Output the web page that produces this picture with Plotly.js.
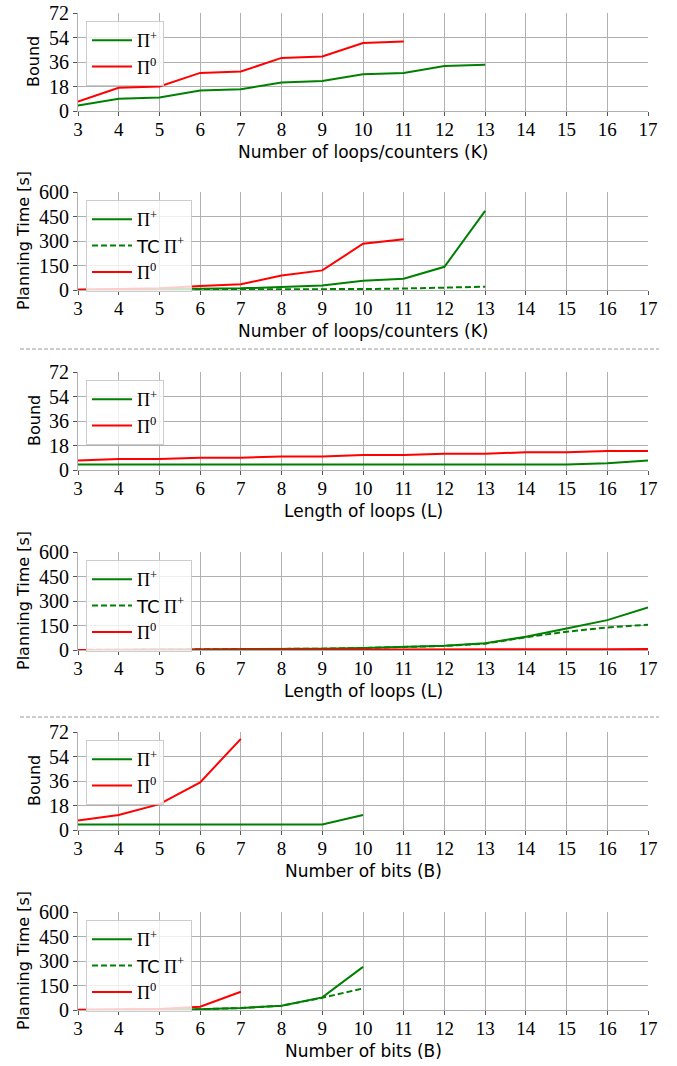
<!DOCTYPE html>
<html>
<head>
<meta charset="utf-8">
<script src="https://cdn.plot.ly/plotly-3.0.1.min.js"></script>
<style>
html,body{margin:0;padding:0;background:#fff;}
#chart{width:677px;height:1066px;}
</style>
</head>
<body>
<div id="chart"></div>
<script>
// ---- Data ----
const K = [3, 4, 5, 6, 7, 8, 9, 10, 11, 12, 13];
const K0 = [3, 4, 5, 6, 7, 8, 9, 10, 11];
const boundK_plus = [4, 9, 10, 15, 16, 21, 22, 27, 28, 33, 34];
const boundK_zero = [7, 17, 18, 28, 29, 39, 40, 50, 51];
const timeK_plus = [1, 2, 4, 8, 10, 20, 28, 57, 69, 142, 484];
const timeK_tc = [0.5, 1, 1, 1.5, 2, 3, 4, 6, 9, 14, 20];
const timeK_zero = [2, 5, 10, 24, 35, 89, 120, 283, 311];

const L = [3, 4, 5, 6, 7, 8, 9, 10, 11, 12, 13, 14, 15, 16, 17];
const boundL_plus = [4, 4, 4, 4, 4, 4, 4, 4, 4, 4, 4, 4, 4, 5, 7];
const boundL_zero = [7, 8, 8, 9, 9, 10, 10, 11, 11, 12, 12, 13, 13, 14, 14];
const timeL_plus = [0.5, 1, 1.5, 2, 3, 5, 8, 13, 20, 26, 41, 81, 132, 183, 260];
const timeL_tc = [0.5, 1, 1.5, 2, 3, 5, 8, 12, 18, 25, 39, 78, 112, 138, 155];
const timeL_zero = [0.5, 0.5, 0.5, 1, 1, 1, 1.5, 2, 2, 2.5, 3, 3, 4, 5, 6];

const B = [3, 4, 5, 6, 7, 8, 9, 10];
const B0 = [3, 4, 5, 6, 7];
const boundB_plus = [4, 4, 4, 4, 4, 4, 4, 11];
const boundB_zero = [7, 11, 19, 35, 67];
const timeB_plus = [0.5, 1, 2, 5, 12, 26, 77, 264];
const timeB_tc = [0.5, 1, 2, 5, 12, 26, 75, 132];
const timeB_zero = [1, 2, 6, 20, 112];

const xTicks = [3, 4, 5, 6, 7, 8, 9, 10, 11, 12, 13, 14, 15, 16, 17];
const boundTicks = [0, 18, 36, 54, 72];
const timeTicks = [0, 150, 300, 450, 600];

const nameP = 'Π<sup>+</sup>';
const nameTC = '<span style="font-family:\'DejaVu Sans\'">TC</span> Π<sup>+</sup>';
const name0 = 'Π<sup>0</sup>';

// ---- Panels ----
const panels = [
  {xt: 'Number of loops/counters (K)', yt: 'Bound', range: 72, ticks: boundTicks,
   series: [[K, boundK_plus, nameP, 'green', 'solid'], [K0, boundK_zero, name0, 'red', 'solid']]},
  {xt: 'Number of loops/counters (K)', yt: 'Planning Time [s]', range: 600, ticks: timeTicks,
   series: [[K, timeK_plus, nameP, 'green', 'solid'], [K, timeK_tc, nameTC, 'green', 'dash'], [K0, timeK_zero, name0, 'red', 'solid']]},
  {xt: 'Length of loops (L)', yt: 'Bound', range: 72, ticks: boundTicks,
   series: [[L, boundL_plus, nameP, 'green', 'solid'], [L, boundL_zero, name0, 'red', 'solid']]},
  {xt: 'Length of loops (L)', yt: 'Planning Time [s]', range: 600, ticks: timeTicks,
   series: [[L, timeL_plus, nameP, 'green', 'solid'], [L, timeL_tc, nameTC, 'green', 'dash'], [L, timeL_zero, name0, 'red', 'solid']]},
  {xt: 'Number of bits (B)', yt: 'Bound', range: 72, ticks: boundTicks,
   series: [[B, boundB_plus, nameP, 'green', 'solid'], [B0, boundB_zero, name0, 'red', 'solid']]},
  {xt: 'Number of bits (B)', yt: 'Planning Time [s]', range: 600, ticks: timeTicks,
   series: [[B, timeB_plus, nameP, 'green', 'solid'], [B, timeB_tc, nameTC, 'green', 'dash'], [B0, timeB_zero, name0, 'red', 'solid']]}
];

const W = 677, H = 1066, ML = 78, MR = 29;
const tops = [13, 192, 372, 552, 732, 912];
const PH = 98;
const pw = W - ML - MR;

const serifFont = 'Liberation Serif';
const sansFont = 'DejaVu Sans';
const gridC = '#b0b0b0';

const data = [];
const layout = {
  width: W, height: H,
  margin: {l: ML, r: MR, t: 0, b: 0},
  paper_bgcolor: '#fff', plot_bgcolor: '#fff',
  showlegend: true,
  font: {family: serifFont, color: '#000'},
  annotations: [], shapes: []
};

panels.forEach((p, i) => {
  const n = i + 1;
  const xa = n === 1 ? 'x' : 'x' + n;
  const ya = n === 1 ? 'y' : 'y' + n;
  const lg = n === 1 ? 'legend' : 'legend' + n;
  const top = tops[i];
  const d0 = 1 - (top + PH) / H, d1 = 1 - top / H;
  layout[n === 1 ? 'xaxis' : 'xaxis' + n] = {
    anchor: ya, range: [3, 17], tickmode: 'array', tickvals: xTicks,
    showgrid: true, gridcolor: gridC, gridwidth: 1, zeroline: false,
    showline: true, linecolor: gridC, linewidth: 1,
    ticks: 'outside', ticklen: 4, tickcolor: '#555', tickwidth: 1,
    ticklabelstandoff: -3,
    tickfont: {family: serifFont, size: 19, color: '#000'}
  };
  layout[n === 1 ? 'yaxis' : 'yaxis' + n] = {
    anchor: xa, domain: [d0, d1], range: [0, p.range], tickmode: 'array', tickvals: p.ticks,
    showgrid: true, gridcolor: gridC, gridwidth: 1, zeroline: false,
    showline: true, linecolor: gridC, linewidth: 1,
    ticks: 'outside', ticklen: 4, tickcolor: '#555', tickwidth: 1,
    tickfont: {family: serifFont, size: 20, color: '#000'}
  };
  layout[lg] = {
    x: 8 / pw, y: 1 - (top + 8) / H, xanchor: 'left', yanchor: 'top',
    bgcolor: 'rgba(255,255,255,0.8)', bordercolor: '#cccccc', borderwidth: 1,
    font: {family: serifFont, size: 18, color: '#000'}, itemwidth: 40,
    tracegroupgap: 0
  };
  p.series.forEach(s => {
    data.push({
      type: 'scatter', mode: 'lines', x: s[0], y: s[1], name: s[2],
      xaxis: xa, yaxis: ya, legend: lg,
      line: {color: s[3], width: 2, dash: s[4] === 'dash' ? '6px,3px' : 'solid'},
      hoverinfo: 'skip'
    });
  });
  const titleX = p.range === 72 ? 34 : 23;
  layout.annotations.push({
    xref: 'paper', yref: 'paper', x: (titleX - ML) / pw, y: (d0 + d1) / 2,
    text: p.yt, textangle: -90, showarrow: false, xanchor: 'center', yanchor: 'middle',
    font: {family: sansFont, size: 16, color: '#000'}
  });
  layout.annotations.push({
    xref: 'paper', yref: 'paper', x: 0.5, y: 1 - (top + PH + 41) / H,
    text: p.xt, showarrow: false, xanchor: 'center', yanchor: 'middle',
    font: {family: sansFont, size: 17, color: '#000'}
  });
});

[349, 717].forEach(py => {
  layout.shapes.push({
    type: 'line', xref: 'paper', yref: 'paper',
    x0: (20 - ML) / pw, x1: (659 - ML) / pw, y0: 1 - py / H, y1: 1 - py / H,
    line: {color: '#999999', width: 1, dash: '4px,2px'}
  });
});

Plotly.newPlot('chart', data, layout, {displayModeBar: false, staticPlot: true});
</script>
</body>
</html>
